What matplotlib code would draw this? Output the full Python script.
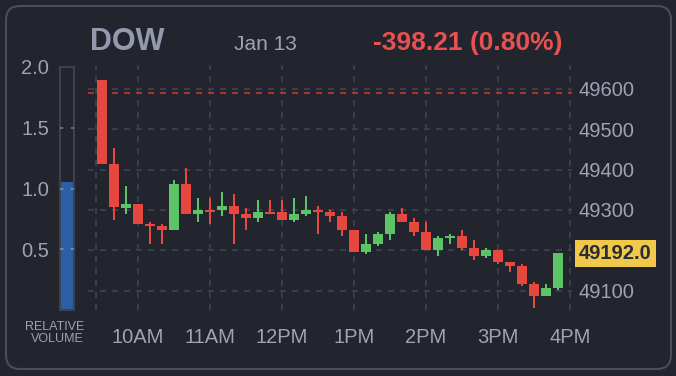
import matplotlib
matplotlib.use("Agg")
import matplotlib.pyplot as plt
from matplotlib.patches import FancyBboxPatch
from matplotlib.transforms import IdentityTransform

plt.rcParams['font.family'] = ['Liberation Sans', 'DejaVu Sans']

# data (10 minute candles)
times = ["9:30", "9:40", "9:50", "10:00", "10:10", "10:20", "10:30", "10:40", "10:50",
         "11:00", "11:10", "11:20", "11:30", "11:40", "11:50", "12:00", "12:10", "12:20",
         "12:30", "12:40", "12:50", "13:00", "13:10", "13:20", "13:30", "13:40", "13:50",
         "14:00", "14:10", "14:20", "14:30", "14:40", "14:50", "15:00", "15:10", "15:20",
         "15:30", "15:40", "15:50"]
opens = [49622, 49414, 49305, 49315, 49265, 49260, 49250, 49364, 49290, 49300, 49300, 49310,
         49290, 49280, 49295, 49295, 49275, 49290, 49300, 49295, 49285, 49250, 49196, 49216,
         49240, 49290, 49270, 49245, 49201, 49231, 49236, 49206, 49186, 49201, 49171, 49161,
         49117, 49087, 49107]
highs = [49622, 49454, 49359, 49315, 49270, 49265, 49374, 49404, 49330, 49330, 49345, 49340,
         49305, 49325, 49325, 49325, 49330, 49335, 49310, 49300, 49295, 49250, 49240, 49245,
         49295, 49305, 49280, 49270, 49236, 49240, 49250, 49226, 49206, 49201, 49171, 49166,
         49122, 49117, 49192]
lows = [49414, 49275, 49290, 49265, 49216, 49216, 49250, 49290, 49270, 49265, 49285, 49216,
        49250, 49270, 49290, 49275, 49270, 49285, 49240, 49270, 49236, 49196, 49191, 49211,
        49226, 49270, 49236, 49201, 49186, 49216, 49201, 49176, 49181, 49166, 49146, 49112,
        49057, 49087, 49102]
closes = [49414, 49306, 49315, 49265, 49260, 49250, 49364, 49290, 49300, 49295, 49310, 49290,
          49280, 49295, 49290, 49275, 49290, 49300, 49295, 49285, 49250, 49196, 49216, 49240,
          49290, 49270, 49245, 49201, 49231, 49236, 49206, 49186, 49201, 49171, 49161, 49117,
          49087, 49107, 49192]

prev_close = 49590.21
last_price = 49192.0
symbol = "DOW"
date_label = "Jan 13"
change_label = "-398.21 (0.80%)"
rel_volume = 1.05

hour_times = ["10:00", "11:00", "12:00", "13:00", "14:00", "15:00", "16:00"]
hour_labels = ["10AM", "11AM", "12PM", "1PM", "2PM", "3PM", "4PM"]
grid_prices = [49100, 49200, 49300, 49400, 49500, 49600]
price_ticks = [49100, 49300, 49400, 49500, 49600]
vol_ticks = [0.5, 1.0, 1.5, 2.0]

BG = '#22242e'
GRID = '#3a3d4a'
TXT = '#9ea3b5'
UP = '#5cc466'
DOWN = '#e6473f'

W, H = 676, 376


def box(l, t, r, b):
    return [l / W, 1 - b / H, (r - l) / W, (b - t) / H]


def to_min(s):
    h, m = s.split(":")
    return int(h) * 60 + int(m) - 570


fig = plt.figure(figsize=(W / 100, H / 100), dpi=100, facecolor=BG)

fig.add_artist(FancyBboxPatch((6, 7), 665, 363, boxstyle="round,pad=0,rounding_size=14",
                              transform=IdentityTransform(), fc=BG, ec='#4a4d5b', lw=1.5,
                              zorder=0))

# price chart
ax = fig.add_axes(box(88, 65, 572, 310))
ax.set_facecolor('none')
ax.set_xlim(-11.67, 391.67)
ax.set_ylim(49052, 49659)

dash = (0, (3, 3))
for x in [-5] + [to_min(t) for t in hour_times]:
    ax.axvline(x, color=GRID, lw=1.44, ls=dash, zorder=1)
for p in grid_prices:
    ax.axhline(p, color=GRID, lw=1.44, ls=dash, zorder=1)
ax.axhline(prev_close, color='#b3302a', lw=1.44, ls=dash, zorder=2)

xs = [to_min(t) for t in times]
for x, o, h, l, c in zip(xs, opens, highs, lows, closes):
    col = UP if c >= o else DOWN
    ax.vlines(x, l, h, color=col, lw=1.44, zorder=3)
    ax.bar(x, max(abs(c - o), 4), bottom=min(o, c), width=8.33, color=col, zorder=4)

for s in ax.spines.values():
    s.set_visible(False)
ax.set_xticks([to_min(t) for t in hour_times], hour_labels)
ax.yaxis.tick_right()
ax.set_yticks(price_ticks, [str(p) for p in price_ticks])
ax.tick_params(axis='x', length=0, pad=13, labelsize=14.5, labelcolor=TXT)
ax.tick_params(axis='y', length=0, pad=5, labelsize=14.5, labelcolor=TXT)

ax.text(1 + 7 / 484, last_price, f"{last_price:.1f}", transform=ax.get_yaxis_transform(),
        ha='left', va='center', fontsize=14.5, fontweight='bold', color='#2a2c36',
        bbox=dict(boxstyle='square,pad=0.2', fc='#f0c94b', ec='none'), zorder=6)

# relative volume gauge
vax = fig.add_axes(box(60, 67, 74, 310))
vax.set_facecolor('none')
vax.set_xlim(-0.5, 0.5)
vax.set_ylim(0, 2)
vax.bar(0, rel_volume, width=1.0, color='#2c5ea8', zorder=2)
for v in vol_ticks[:-1]:
    vax.axhline(v, color='#d0d2d8', alpha=0.45, lw=1.2, ls=(0, (2, 4.5)), zorder=3)
for s in vax.spines.values():
    s.set_color('#3d404d')
    s.set_linewidth(1.5)
vax.set_xticks([])
vax.set_yticks(vol_ticks, [f"{v:.1f}" for v in vol_ticks])
vax.tick_params(axis='y', length=0, pad=8, labelsize=14.5, labelcolor=TXT)

fig.text(84 / W, 1 - 321 / H, "RELATIVE\nVOLUME", ha='right', va='top', fontsize=9,
         color=TXT, linespacing=1.0, multialignment='right')

# header
fig.text(90 / W, 1 - 50 / H, symbol, ha='left', va='baseline', fontsize=22,
         fontweight='bold', color='#9499ad')
fig.text(234 / W, 1 - 50 / H, date_label, ha='left', va='baseline', fontsize=15, color=TXT)
fig.text(373 / W, 1 - 50 / H, change_label, ha='left', va='baseline', fontsize=19,
         fontweight='bold', color='#e8514f')

fig.savefig('out.png', dpi=100, facecolor=BG)
